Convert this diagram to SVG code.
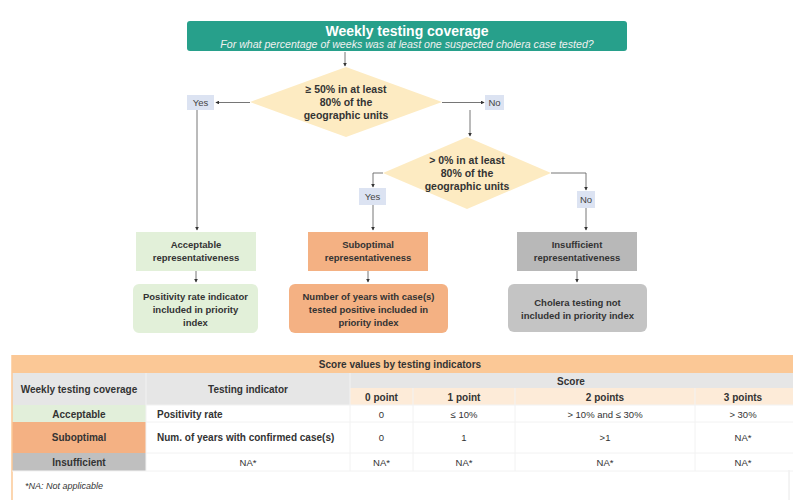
<svg xmlns="http://www.w3.org/2000/svg" width="793" height="500" viewBox="0 0 793 500">
<defs>
<marker id="ah" viewBox="0 0 6 6" refX="5" refY="3" markerWidth="4" markerHeight="4" orient="auto">
<path d="M0,0 L6,3 L0,6 z" fill="#333"/>
</marker>
<style>
text{font-family:"Liberation Sans",Arial,sans-serif;}
.dt{font-size:10.5px;font-weight:bold;fill:#333;text-anchor:middle;}
.bt{font-size:9.5px;font-weight:bold;fill:#333;text-anchor:middle;}
.yn{font-size:9.5px;fill:#444;text-anchor:middle;}
.ynb{fill:#DCE3F2;}
.dia{fill:#FDEBC2;}
.arr{stroke:#666;stroke-width:0.9;fill:none;marker-end:url(#ah);}
.th{font-size:10px;font-weight:bold;fill:#333;text-anchor:middle;}
.td{font-size:9.5px;fill:#333;text-anchor:middle;}
.tdl{font-size:10px;font-weight:bold;fill:#333;}
.sep{stroke:#f2f2f2;stroke-width:1;}
</style>
</defs>
<rect width="793" height="500" fill="#ffffff"/>

<g id="header">
<rect x="187" y="21" width="440" height="30" rx="3" fill="#27A08B"/>
<text x="407" y="36" font-size="14" font-weight="bold" fill="#fff" text-anchor="middle">Weekly testing coverage</text>
<text x="407" y="47.5" font-size="10.6" font-style="italic" fill="#f0f0f0" text-anchor="middle">For what percentage of weeks was at least one suspected cholera case tested?</text>
</g>

<g id="diamond1">
<polygon class="dia" points="346,67 442,102 346,137 250,102"/>
<text class="dt" x="346" y="93">≥ 50% in at least</text>
<text class="dt" x="346" y="106">80% of the</text>
<text class="dt" x="346" y="119">geographic units</text>
</g>

<g id="yes1">
<rect class="ynb" x="187" y="95" width="27" height="15"/>
<text class="yn" x="200.5" y="106">Yes</text>
</g>
<g id="no1">
<rect class="ynb" x="485" y="95" width="19" height="15"/>
<text class="yn" x="494.5" y="106">No</text>
</g>

<g id="diamond2">
<polygon class="dia" points="467,137 551,173 467,209 383,173"/>
<text class="dt" x="467" y="164">&gt; 0% in at least</text>
<text class="dt" x="467" y="177">80% of the</text>
<text class="dt" x="467" y="190">geographic units</text>
</g>

<g id="yes2">
<rect class="ynb" x="359" y="188" width="27" height="17"/>
<text class="yn" x="372.5" y="200">Yes</text>
</g>
<g id="no2">
<rect class="ynb" x="577" y="191" width="18" height="17"/>
<text class="yn" x="586" y="203">No</text>
</g>

<g id="acceptable">
<rect x="136" y="232" width="120" height="39" fill="#E2F0D9"/>
<text class="bt" x="196" y="248">Acceptable</text>
<text class="bt" x="196" y="261">representativeness</text>
</g>
<g id="suboptimal">
<rect x="308" y="232" width="120" height="39" fill="#F4B183"/>
<text class="bt" x="368" y="248">Suboptimal</text>
<text class="bt" x="368" y="261">representativeness</text>
</g>
<g id="insufficient">
<rect x="517" y="232" width="120" height="39" fill="#B8B8B8"/>
<text class="bt" x="577" y="248">Insufficient</text>
<text class="bt" x="577" y="261">representativeness</text>
</g>

<g id="acceptable-result">
<rect x="133" y="284" width="125" height="49" rx="6" fill="#E2F0D9"/>
<text class="bt" x="195.5" y="300">Positivity rate indicator</text>
<text class="bt" x="195.5" y="313">included in priority</text>
<text class="bt" x="195.5" y="326">index</text>
</g>
<g id="suboptimal-result">
<rect x="289" y="284" width="159" height="49" rx="6" fill="#F4B183"/>
<text class="bt" x="368.5" y="300">Number of years with case(s)</text>
<text class="bt" x="368.5" y="313">tested positive included in</text>
<text class="bt" x="368.5" y="326">priority index</text>
</g>
<g id="insufficient-result">
<rect x="508" y="284" width="139" height="48" rx="6" fill="#C4C4C4"/>
<text class="bt" x="577.5" y="306">Cholera testing not</text>
<text class="bt" x="577.5" y="319">included in priority index</text>
</g>

<g id="connectors">
<line class="arr" x1="345" y1="52" x2="345" y2="66"/>
<line class="arr" x1="250" y1="102.5" x2="216" y2="102.5"/>
<line class="arr" x1="442" y1="102.5" x2="484" y2="102.5"/>
<line class="arr" x1="197" y1="110" x2="197" y2="230"/>
<line class="arr" x1="470" y1="110" x2="470" y2="136"/>
<polyline class="arr" points="383,173 373,173 373,187"/>
<line class="arr" x1="373" y1="205" x2="373" y2="230"/>
<polyline class="arr" points="551,173 586,173 586,190"/>
<line class="arr" x1="586" y1="208" x2="586" y2="230"/>
<line class="arr" x1="196" y1="271" x2="196" y2="282"/>
<line class="arr" x1="368" y1="271" x2="368" y2="282"/>
<line class="arr" x1="577" y1="271" x2="577" y2="282"/>
</g>

<g id="table">
<rect x="12" y="355" width="781" height="18" fill="#FBC896"/>
<text class="th" x="400" y="368">Score values by testing indicators</text>
<rect x="12" y="373" width="134" height="32" fill="#E6E6E6"/>
<rect x="146" y="373" width="204" height="32" fill="#E6E6E6"/>
<rect x="350" y="373" width="443" height="15" fill="#E6E6E6"/>
<rect x="350" y="388" width="443" height="17" fill="#FDEBD8"/>
<rect x="12" y="405" width="134" height="17" fill="#E2EFDA"/>
<rect x="12" y="422" width="134" height="31" fill="#F4B183"/>
<rect x="12" y="453" width="134" height="18" fill="#BFBFBF"/>
<line x1="12" y1="355" x2="12" y2="500" stroke="#FBC896" stroke-width="1.5"/>
<line x1="789" y1="470" x2="789" y2="500" stroke="#e8e8e8" stroke-width="1"/>
<g class="sep">
<line x1="146" y1="373" x2="146" y2="471"/>
<line x1="350" y1="373" x2="350" y2="471"/>
<line x1="413" y1="388" x2="413" y2="471"/>
<line x1="515" y1="388" x2="515" y2="471"/>
<line x1="695" y1="388" x2="695" y2="471"/>
<line x1="146" y1="405" x2="793" y2="405"/>
<line x1="146" y1="422" x2="793" y2="422"/>
<line x1="146" y1="453" x2="793" y2="453"/>
<line x1="12" y1="471" x2="793" y2="471"/>
</g>
<text class="th" x="79" y="392.5">Weekly testing coverage</text>
<text class="th" x="248" y="392.5">Testing indicator</text>
<text class="th" x="571" y="384.5">Score</text>
<text class="th" x="381.5" y="400.5">0 point</text>
<text class="th" x="464" y="400.5">1 point</text>
<text class="th" x="605" y="400.5">2 points</text>
<text class="th" x="743" y="400.5">3 points</text>

<text class="th" x="79" y="417.5">Acceptable</text>
<text class="tdl" x="157" y="417.5">Positivity rate</text>
<text class="td" x="381.5" y="417.5">0</text>
<text class="td" x="464" y="417.5">≤ 10%</text>
<text class="td" x="605" y="417.5">&gt; 10% and ≤ 30%</text>
<text class="td" x="743" y="417.5">&gt; 30%</text>

<text class="th" x="79" y="441">Suboptimal</text>
<text class="tdl" x="157" y="441">Num. of years with confirmed case(s)</text>
<text class="td" x="381.5" y="441">0</text>
<text class="td" x="464" y="441">1</text>
<text class="td" x="605" y="441">&gt;1</text>
<text class="td" x="743" y="441">NA*</text>

<text class="th" x="79" y="466">Insufficient</text>
<text class="td" x="248" y="466">NA*</text>
<text class="td" x="381.5" y="466">NA*</text>
<text class="td" x="464" y="466">NA*</text>
<text class="td" x="605" y="466">NA*</text>
<text class="td" x="743" y="466">NA*</text>

<text x="25" y="489" font-size="9" font-style="italic" fill="#333">*NA: Not applicable</text>
</g>
</svg>
